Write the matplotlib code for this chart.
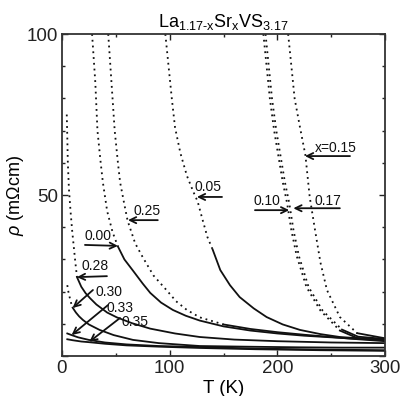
import matplotlib
matplotlib.use("Agg")
import matplotlib.pyplot as plt
from matplotlib.ticker import MultipleLocator

plt.rcParams['font.family'] = ['Liberation Sans', 'DejaVu Sans']
plt.rcParams['mathtext.fontset'] = 'custom'
plt.rcParams['mathtext.rm'] = 'Liberation Sans'
plt.rcParams['mathtext.it'] = 'Liberation Sans:italic'
plt.rcParams['mathtext.default'] = 'regular'

# curves: T (K), rho (mOhm cm)
x000_T = [28, 31, 33, 36, 38, 42, 47, 52, 58, 66, 75, 82, 92, 103, 115, 128, 150, 175, 200, 225, 250, 275, 300]
x000_r = [100, 85, 70, 60, 54, 45, 38.5, 34, 30, 26.5, 22.5, 19.6, 16.6, 14.3, 12.5, 11, 9.2, 7.9, 7, 6.3, 5.8, 5.3, 5.0]

x005_T = [96, 99, 102, 105, 110, 116, 122, 126, 130, 135, 140, 147, 156, 165, 178, 190, 205, 221, 240, 258, 280, 300]
x005_r = [100, 90, 80, 71, 63, 56, 51, 48, 43, 37, 33, 26.7, 22, 18.3, 14.8, 12.1, 9.8, 8.1, 6.8, 5.9, 5.4, 5.2]

x010_T = [187, 190, 193, 197, 201, 205, 209, 213, 218, 227, 240, 258, 274, 300]
x010_r = [100, 90, 80, 70, 62, 54, 47.5, 39, 31, 21.4, 14.1, 7.9, 5.6, 4.8]

x015_T = [210, 213, 216, 221, 226, 230, 235, 240, 246, 258, 274, 300]
x015_r = [100, 90, 80, 71, 62.4, 49.4, 39, 29, 20.5, 12.1, 7.1, 5.5]

x017_T = [189, 192, 195, 199, 203, 207, 211, 215, 220, 229, 242, 260, 275, 300]
x017_r = [100, 90, 80, 70, 62, 54, 47.5, 39, 31, 21.4, 14.1, 8.2, 6.0, 5.3]

x025_T = [43, 46, 49, 52, 54, 58, 61, 68, 75, 85, 97, 106, 116, 128, 150, 175, 200, 225, 250, 275, 300]
x025_r = [100, 85, 70, 60, 54, 47, 42, 35, 30.7, 25, 20.5, 17, 14.3, 12, 9.8, 8.4, 7.4, 6.6, 5.9, 5.2, 4.6]

x028_T = [4.5, 5, 5.5, 6.5, 8, 9.5, 11, 12.5, 14, 18, 22, 26, 32, 42, 51, 65, 82, 105, 128, 160, 200, 250, 300]
x028_r = [75, 68, 60, 52, 45, 39, 34, 29, 24.5, 21.5, 19.5, 18, 16, 13.5, 12, 10.2, 8.5, 7, 5.9, 5.1, 4.6, 4.2, 4.0]

x030_T = [5, 6, 7, 8.5, 10, 13, 16, 19.5, 25, 35, 48, 66, 90, 128, 170, 220, 260, 300]
x030_r = [22, 20, 18.5, 16.5, 15, 13.5, 12.3, 11.2, 9.8, 8.1, 6.5, 5, 4, 3.1, 2.9, 2.7, 2.6, 2.6]

x033_T = [5, 9, 15, 25, 40, 60, 90, 128, 180, 240, 300]
x033_r = [7, 6.5, 5.8, 5, 4.2, 3.6, 3.1, 2.8, 2.3, 2.0, 1.8]

x035_T = [5, 10, 18, 25, 40, 60, 90, 128, 180, 240, 300]
x035_r = [5.2, 4.9, 4.5, 4.3, 3.8, 3.3, 2.9, 2.5, 2.1, 1.8, 1.6]

curves = [(x000_T, x000_r, 36), (x005_T, x005_r, 35), (x010_T, x010_r, 12),
          (x015_T, x015_r, 12), (x017_T, x017_r, 12), (x025_T, x025_r, 11),
          (x028_T, x028_r, 24.5), (x030_T, x030_r, 15), (x033_T, x033_r, 100),
          (x035_T, x035_r, 100)]

# labels: text, text position, arrow tail, arrow head (data coords)
labels = ["0.00", "0.25", "0.05", "0.28", "0.30", "0.33", "0.35", "0.10", "0.17", "x=0.15"]
label_pos = [(33.9, 37.3), (79.4, 45.0), (135.6, 52.5), (31.0, 28.0), (44.0, 19.9),
             (53.9, 14.9), (68.0, 10.6), (190.6, 48.1), (246.5, 48.1), (254.3, 64.6)]
arrow_tail = [(21.4, 34.5), (89.0, 42.2), (148.6, 49.4), (41.8, 24.8), (28.8, 20.5),
              (42.7, 15.8), (53.9, 11.8), (179.2, 45.3), (258.0, 45.9), (267.4, 62.1)]
arrow_head = [(52.0, 34.2), (61.3, 42.2), (125.3, 49.4), (13.9, 24.5), (9.9, 14.9),
              (9.0, 6.5), (25.4, 4.4), (211.0, 45.3), (214.8, 45.9), (225.6, 62.1)]

fig = plt.figure(figsize=(4.02, 3.96), dpi=100)
ax = fig.add_axes([0.154, 0.101, 0.804, 0.813])

for T, r, thr in curves:
    k = next(i for i, v in enumerate(r) if v <= thr) if min(r) <= thr else len(r) - 1
    if k > 0:
        ax.plot(T[:k + 1], r[:k + 1], color='#111111', lw=1.3, linestyle=(0, (1, 2.2)))
    ax.plot(T[k:], r[k:], color='#111111', lw=1.3)

for lab, p, t, h in zip(labels, label_pos, arrow_tail, arrow_head):
    ax.text(p[0], p[1], lab, ha='center', va='center', fontsize=10, color='#111111')
    ax.annotate('', xy=h, xytext=t,
                arrowprops=dict(arrowstyle='->,head_length=0.45,head_width=0.22',
                                color='#111111', lw=1.3, shrinkA=0, shrinkB=0,
                                mutation_scale=10))

ax.set_xlim(0, 300)
ax.set_ylim(0, 100)
ax.set_xticks([0, 100, 200, 300])
ax.set_yticks([0, 50, 100])
ax.set_yticklabels(['', '50', '100'])
ax.xaxis.set_minor_locator(MultipleLocator(50))
ax.yaxis.set_minor_locator(MultipleLocator(10))
ax.tick_params(which='both', direction='in', top=True, right=True, width=1.0, colors='#222222')
ax.tick_params(which='major', length=4, labelsize=13.5, pad=3)
ax.tick_params(which='minor', length=2.5)
for s in ax.spines.values():
    s.set_linewidth(1.3)
    s.set_color('#333333')

ax.set_xlabel('T (K)', fontsize=13.5, labelpad=2)
ax.set_ylabel(r'$\mathit{\rho}$ (m$\Omega$cm)', fontsize=13, labelpad=0)
ax.set_title(r'La$_{1.17\text{-}x}$Sr$_x$VS$_{3.17}$', fontsize=13, pad=5)

fig.savefig('out.png', dpi=100)
